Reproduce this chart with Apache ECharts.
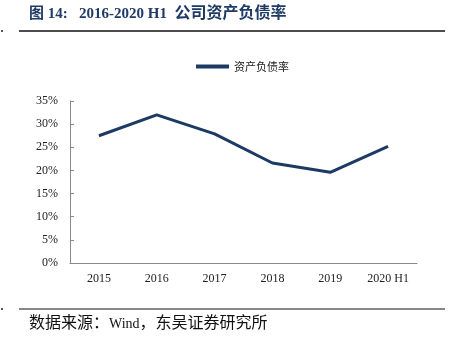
<!DOCTYPE html>
<html><head><meta charset="utf-8">
<script src="https://cdn.jsdelivr.net/npm/echarts@6/dist/echarts.min.js"></script>
<style>html,body{margin:0;padding:0;background:#fff}#c{width:451px;height:345px}</style>
</head><body><div id="c"></div>
<script>
const categories = ['2015', '2016', '2017', '2018', '2019', '2020 H1'];
const debtRatio = [27.5, 32.0, 27.9, 21.6, 19.6, 25.2];
const seriesName = '资产负债率';
const yTicks = [0, 5, 10, 15, 20, 25, 30, 35];
const titleLatin = '图 14:   2016-2020 H1  ';
const titleCJK = '公司资产负债率';
const sourceA = '数据来源：';
const sourceB = 'Wind';
const sourceC = '，东吴证券研究所';

const chart = echarts.init(document.getElementById('c'), null, {renderer: 'canvas'});
const serif = '"Liberation Serif", "Times New Roman", "Noto Sans CJK SC", serif';
const navy = '#1c3a63';

chart.setOption({
  animation: false,
  backgroundColor: '#fff',
  grid: {left: 70, right: 34, top: 101, bottom: 82},
  legend: {
    top: 56, left: 191,
    data: [seriesName],
    itemWidth: 33, itemHeight: 4, itemGap: 4,
    icon: 'rect',
    textStyle: {fontFamily: '"Noto Sans CJK SC", sans-serif', fontSize: 11, color: '#222'}
  },
  xAxis: {
    type: 'category', data: categories, boundaryGap: true,
    axisLine: {lineStyle: {color: '#8a8a8a', width: 1}},
    axisTick: {inside: true, length: 4, lineStyle: {color: '#8a8a8a'}},
    axisLabel: {fontFamily: serif, fontSize: 12, color: '#222', margin: 10}
  },
  yAxis: {
    type: 'value', min: 0, max: 35, interval: 5,
    axisLine: {show: true, lineStyle: {color: '#8a8a8a', width: 1}},
    axisTick: {show: true, inside: true, length: 4, lineStyle: {color: '#8a8a8a'}},
    splitLine: {show: false},
    axisLabel: {fontFamily: serif, fontSize: 12, color: '#222', margin: 12,
      formatter: v => yTicks.includes(v) ? v + '%' : ''}
  },
  series: [{
    name: seriesName, type: 'line', data: debtRatio,
    symbol: 'none', lineStyle: {color: navy, width: 3}, itemStyle: {color: navy}
  }],
  graphic: [
    {type: 'text', x: 29, y: 14, style: {
      text: '{a|' + titleLatin + '}{b|' + titleCJK + '}',
      verticalAlign: 'middle',
      rich: {
        a: {font: 'bold 15px ' + serif, fill: '#1f3a64'},
        b: {font: 'bold 16px ' + serif, fill: '#1f3a64'}
      }
    }},
    {type: 'line', shape: {x1: 19, y1: 31, x2: 445, y2: 31}, style: {stroke: '#111', lineWidth: 1.5}},
    {type: 'rect', shape: {x: 1, y: 30, width: 2, height: 2}, style: {fill: '#555'}},
    {type: 'line', shape: {x1: 19, y1: 309, x2: 445, y2: 309}, style: {stroke: '#111', lineWidth: 1.2}},
    {type: 'rect', shape: {x: 1, y: 308, width: 2, height: 2}, style: {fill: '#555'}},
    {type: 'text', x: 29, y: 324, style: {
      text: '{b|' + sourceA + '}{a|' + sourceB + '}{b|' + sourceC + '}',
      verticalAlign: 'middle',
      rich: {
        a: {font: '14px ' + serif, fill: '#111'},
        b: {font: '16px ' + serif, fill: '#111'}
      }
    }}
  ]
});
</script></body></html>
